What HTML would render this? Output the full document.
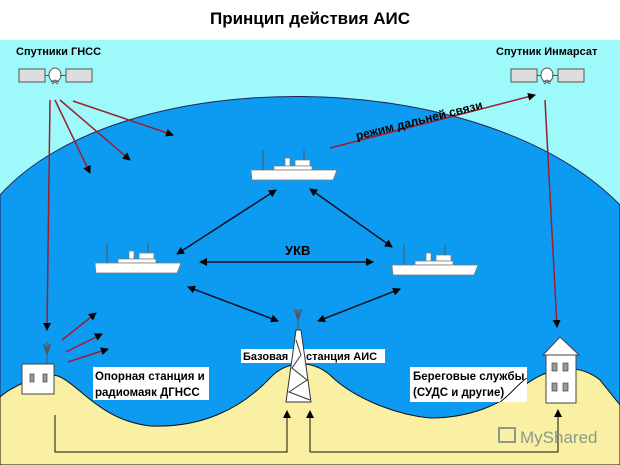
<!DOCTYPE html>
<html><head><meta charset="utf-8"><style>
html,body{margin:0;padding:0;background:#fff}
svg{display:block}
text{font-family:"Liberation Sans",sans-serif;font-weight:bold}
</style></head><body>
<svg width="620" height="465" viewBox="0 0 620 465" xmlns="http://www.w3.org/2000/svg">
<defs>
<marker id="ab" markerWidth="8" markerHeight="8" refX="7" refY="4" orient="auto" markerUnits="userSpaceOnUse"><path d="M0,0 L8,4 L0,8 Z" fill="#000"/></marker>
<marker id="as" markerWidth="8" markerHeight="8" refX="1" refY="4" orient="auto" markerUnits="userSpaceOnUse"><path d="M8,0 L0,4 L8,8 Z" fill="#000"/></marker>
<g id="ship">
<line x1="12" y1="-20" x2="12" y2="0" stroke="#555" stroke-width="1"/>
<line x1="53" y1="-20" x2="53" y2="-8" stroke="#555" stroke-width="1"/>
<rect x="34" y="-12" width="5" height="8" fill="#fff" stroke="#777" stroke-width="0.7"/>
<rect x="44" y="-10" width="15" height="6" fill="#fff" stroke="#777" stroke-width="0.7"/>
<rect x="23" y="-4" width="38" height="4" fill="#fff" stroke="#777" stroke-width="0.7"/>
<path d="M0,0 L86,0 L82,10 L1,10 Z" fill="#fff" stroke="#777" stroke-width="0.7"/>
</g>
<g id="sat">
<rect x="0" y="0" width="26" height="13" fill="#ddd" stroke="#555"/>
<line x1="26" y1="6.5" x2="31" y2="6.5" stroke="#555"/>
<ellipse cx="36" cy="6" rx="6" ry="7" fill="#fff" stroke="#555"/>
<path d="M32,13 L36,11 L40,13 M33,15 l3,-2 l3,2" fill="none" stroke="#555"/>
<line x1="41" y1="6.5" x2="47" y2="6.5" stroke="#555"/>
<rect x="47" y="0" width="26" height="13" fill="#ddd" stroke="#555"/>
</g>
</defs>
<rect x="0" y="0" width="620" height="40" fill="#fff"/>
<rect x="0" y="40" width="620" height="425" fill="#9ef9fb"/>
<text x="310" y="24" font-size="17" text-anchor="middle">Принцип действия АИС</text>
<path d="M0,195 C120,62 480,62 620,205 L620,465 L0,465 Z" fill="#0d9bf1" stroke="#225" stroke-width="1"/>
<path d="M0,397 C10,388 40,372 58,376 C80,385 100,420 150,426 C200,428 240,410 270,378 C285,362 310,358 330,375 C350,395 390,414 430,418 C470,418 500,405 525,385 C545,370 575,360 600,380 L620,405 L620,465 L0,465 Z" fill="#f9f0a4" stroke="#111" stroke-width="1"/>
<text x="16" y="55" font-size="11">Спутники ГНСС</text>
<text x="496" y="55" font-size="11">Спутник Инмарсат</text>
<use href="#sat" x="19" y="69"/>
<use href="#sat" x="511" y="69"/>
<g stroke="#a01c2c" stroke-width="1.5" fill="none">
<line x1="50" y1="100" x2="47" y2="330" marker-end="url(#ab)"/>
<line x1="55" y1="100" x2="90" y2="173" marker-end="url(#ab)"/>
<line x1="60" y1="100" x2="130" y2="160" marker-end="url(#ab)"/>
<line x1="73" y1="101" x2="173" y2="135" marker-end="url(#ab)"/>
<line x1="545" y1="100" x2="557" y2="327" marker-end="url(#ab)"/>
<line x1="330" y1="148" x2="535" y2="95" marker-end="url(#ab)"/>
<line x1="62" y1="340" x2="96" y2="313" marker-end="url(#ab)"/>
<line x1="66" y1="352" x2="102" y2="334" marker-end="url(#ab)"/>
<line x1="68" y1="362" x2="108" y2="349" marker-end="url(#ab)"/>
</g>
<text x="0" y="0" font-size="12" transform="translate(357,140) rotate(-14)">режим дальней связи</text>
<use href="#ship" x="251" y="170"/>
<use href="#ship" x="95" y="263"/>
<use href="#ship" x="392" y="265"/>
<g stroke="#112" stroke-width="1.5">
<line x1="177" y1="254" x2="276" y2="190" marker-start="url(#as)" marker-end="url(#ab)"/>
<line x1="310" y1="189" x2="392" y2="247" marker-start="url(#as)" marker-end="url(#ab)"/>
<line x1="200" y1="262" x2="373" y2="262" marker-start="url(#as)" marker-end="url(#ab)"/>
<line x1="188" y1="287" x2="278" y2="321" marker-start="url(#as)" marker-end="url(#ab)"/>
<line x1="318" y1="321" x2="400" y2="289" marker-start="url(#as)" marker-end="url(#ab)"/>
</g>
<text x="285" y="255" font-size="13">УКВ</text>
<line x1="47" y1="342" x2="47" y2="364" stroke="#555"/>
<path d="M43,344 L47,354 L51,344 M45,344 L47,354 L49,344" stroke="#555" fill="none"/>
<rect x="22" y="364" width="32" height="30" fill="#fff" stroke="#444"/>
<rect x="30" y="374" width="4" height="8" fill="#999" stroke="#444" stroke-width="0.7"/>
<rect x="43" y="374" width="4" height="8" fill="#999" stroke="#444" stroke-width="0.7"/>
<rect x="93" y="367" width="116" height="33" fill="#fff"/>
<text x="95" y="380" font-size="11.5">Опорная станция и</text>
<text x="95" y="396" font-size="11.5">радиомаяк ДГНСС</text>
<rect x="241" y="349" width="144" height="14" fill="#fff"/>
<text x="243" y="360" font-size="11">Базовая</text>
<text x="306" y="360" font-size="11">станция  АИС</text>
<path d="M296,330 L301,330 L311,402 L286,402 Z" fill="#fff" stroke="#333"/>
<path d="M296,340 L301,355 L292,368 L307,380 L289,392 L310,400" fill="none" stroke="#333"/>
<line x1="298" y1="310" x2="298" y2="330" stroke="#555"/>
<path d="M294,309 L298,320 L302,309 M296,309 L298,320 L300,309" stroke="#555" fill="none"/>
<rect x="410" y="367" width="117" height="35" fill="#fff"/>
<text x="413" y="380" font-size="11.5">Береговые службы</text>
<text x="413" y="396" font-size="11.5">(СУДС и другие)</text>
<path d="M500,402 C510,395 520,382 527,378" fill="none" stroke="#111"/>
<rect x="546" y="355" width="30" height="48" fill="#fff" stroke="#444"/>
<path d="M543,355 L560,337 L579,355 Z" fill="#fff" stroke="#444"/>
<rect x="552" y="363" width="5" height="8" fill="#999" stroke="#444" stroke-width="0.7"/>
<rect x="563" y="363" width="5" height="8" fill="#999" stroke="#444" stroke-width="0.7"/>
<rect x="552" y="383" width="5" height="8" fill="#999" stroke="#444" stroke-width="0.7"/>
<rect x="563" y="383" width="5" height="8" fill="#999" stroke="#444" stroke-width="0.7"/>
<g stroke="#111" stroke-width="1" fill="none">
<path d="M55,415 L55,452 L287,452 L287,411" marker-end="url(#ab)"/>
<path d="M310,452 L310,411" marker-end="url(#ab)"/>
<path d="M310,452 L558,452 L558,410" marker-end="url(#ab)"/>
</g>
<text x="520" y="443" font-size="17" fill="#8a9a8a" style="font-weight:normal">MyShared</text>
<rect x="499" y="428" width="16" height="14" fill="none" stroke="#8a9a8a" stroke-width="2"/>
</svg>
</body></html>
